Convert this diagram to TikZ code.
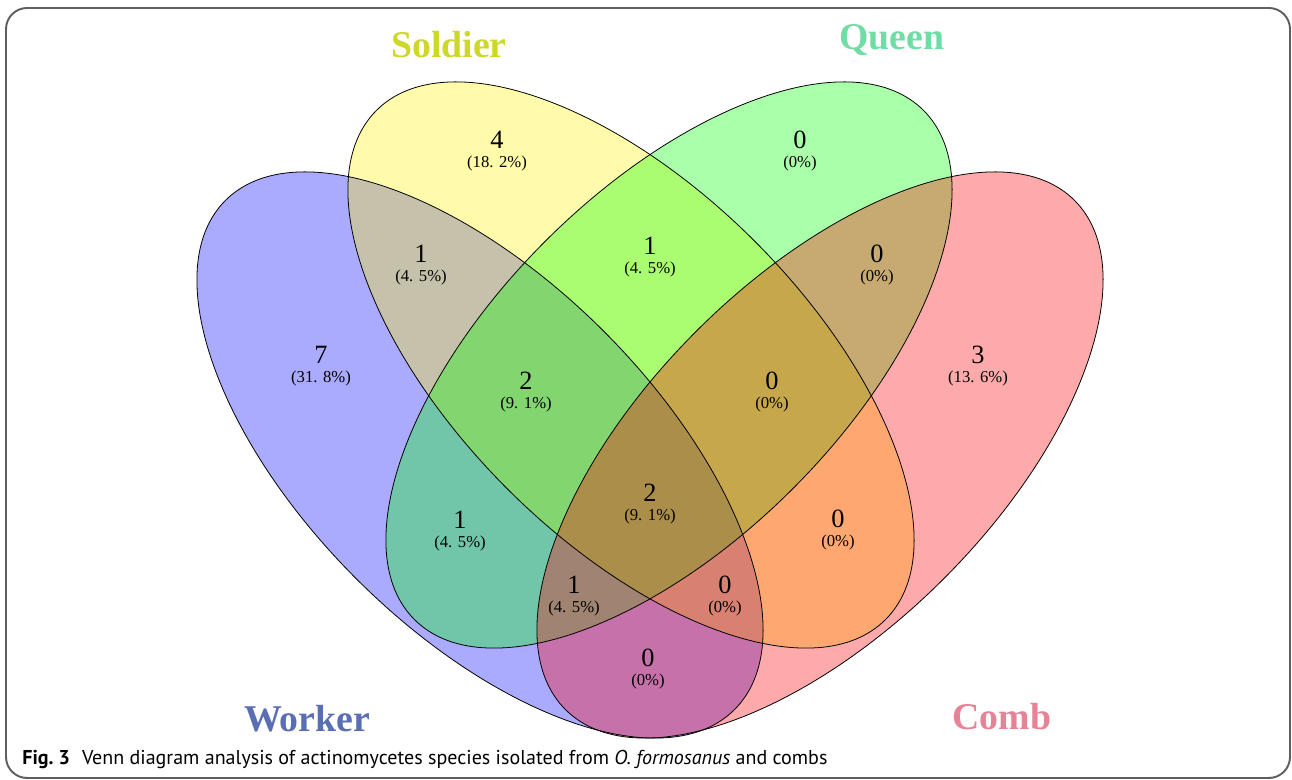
\documentclass[tikz,border=0pt]{standalone}
\usepackage{fontspec}
\setmainfont{Liberation Serif}
\newfontfamily\capfont{PT Sans}
\usetikzlibrary{positioning}
\definecolor{workerc}{RGB}{90,110,180}
\definecolor{soldierc}{RGB}{206,216,40}
\definecolor{queenc}{RGB}{110,222,165}
\definecolor{combc}{RGB}{232,130,150}
\definecolor{framec}{RGB}{95,95,95}
\def\Caption{{\bfseries Fig.\ 3}\hspace{0.6em}Venn diagram analysis of actinomycetes species isolated from \textit{O. formosanus} and combs}
\def\Num#1{{\fontsize{15}{15}\selectfont #1}}

\begin{document}
\begin{tikzpicture}[% one unit is one pixel of the figure
		x=0.02cm,y=0.02cm,
		every node/.style={
			align=center,	% so that "\\" works inside the counts
			inner sep=0pt
		},
		set/.style={fill opacity=0.3333},
		rim/.style={draw=black,line width=0.45pt},
		count/.style={font=\fontsize{9.5}{10.5}\selectfont},
		setname/.style={font=\fontsize{21.5}{24}\selectfont\bfseries,anchor=base}
	]
	\useasboundingbox (0,0) rectangle (1292,780);
	\draw[framec,line width=1.1pt,rounded corners=12] (6,2) rectangle (1290,772);

	% the four sets, filled first
	\fill[set,blue,rotate around={-45:(480,325)}] (480,325) ellipse (360 and 175);
	\fill[set,yellow,rotate around={-45:(631,415)}] (631,415) ellipse (360 and 175);
	\fill[set,green,rotate around={45:(669,415)}] (669,415) ellipse (360 and 175);
	\fill[set,red,rotate around={45:(820,325)}] (820,325) ellipse (360 and 175);
	% then their outlines
	\draw[rim,rotate around={-45:(480,325)}] (480,325) ellipse (360 and 175);
	\draw[rim,rotate around={-45:(631,415)}] (631,415) ellipse (360 and 175);
	\draw[rim,rotate around={45:(669,415)}] (669,415) ellipse (360 and 175);
	\draw[rim,rotate around={45:(820,325)}] (820,325) ellipse (360 and 175);

	% set names
	\node[setname,text=soldierc](Soldier) at (449,722){Soldier};
	\node[setname,text=queenc](Queen) at (892,730){Queen};
	\node[setname,text=workerc](Worker) at (307,48){Worker};
	\node[setname,text=combc](Comb) at (1002,50){Comb};

	% counts
	\node[count](S) at (497,629){\Num{4}\\(18. 2\%)};
	\node[count](Q) at (800,629){\Num{0}\\(0\%)};
	\node[count](WS) at (421,515){\Num{1}\\(4. 5\%)};
	\node[count](SQ) at (650,523){\Num{1}\\(4. 5\%)};
	\node[count](QC) at (877,515){\Num{0}\\(0\%)};
	\node[count](W) at (321,414){\Num{7}\\(31. 8\%)};
	\node[count](WSQ) at (526,388){\Num{2}\\(9. 1\%)};
	\node[count](SQC) at (772,388){\Num{0}\\(0\%)};
	\node[count](C) at (978,414){\Num{3}\\(13. 6\%)};
	\node[count](WSQC) at (650,276){\Num{2}\\(9. 1\%)};
	\node[count](WQ) at (460,249){\Num{1}\\(4. 5\%)};
	\node[count](SC) at (838,250){\Num{0}\\(0\%)};
	\node[count](WQC) at (574,184){\Num{1}\\(4. 5\%)};
	\node[count](WSC) at (725,184){\Num{0}\\(0\%)};
	\node[count](WC) at (648,111){\Num{0}\\(0\%)};

	% caption
	\node[anchor=base west,font=\capfont\fontsize{11.4}{13}\selectfont](cap) at (22,15){\Caption};
\end{tikzpicture}
\end{document}
